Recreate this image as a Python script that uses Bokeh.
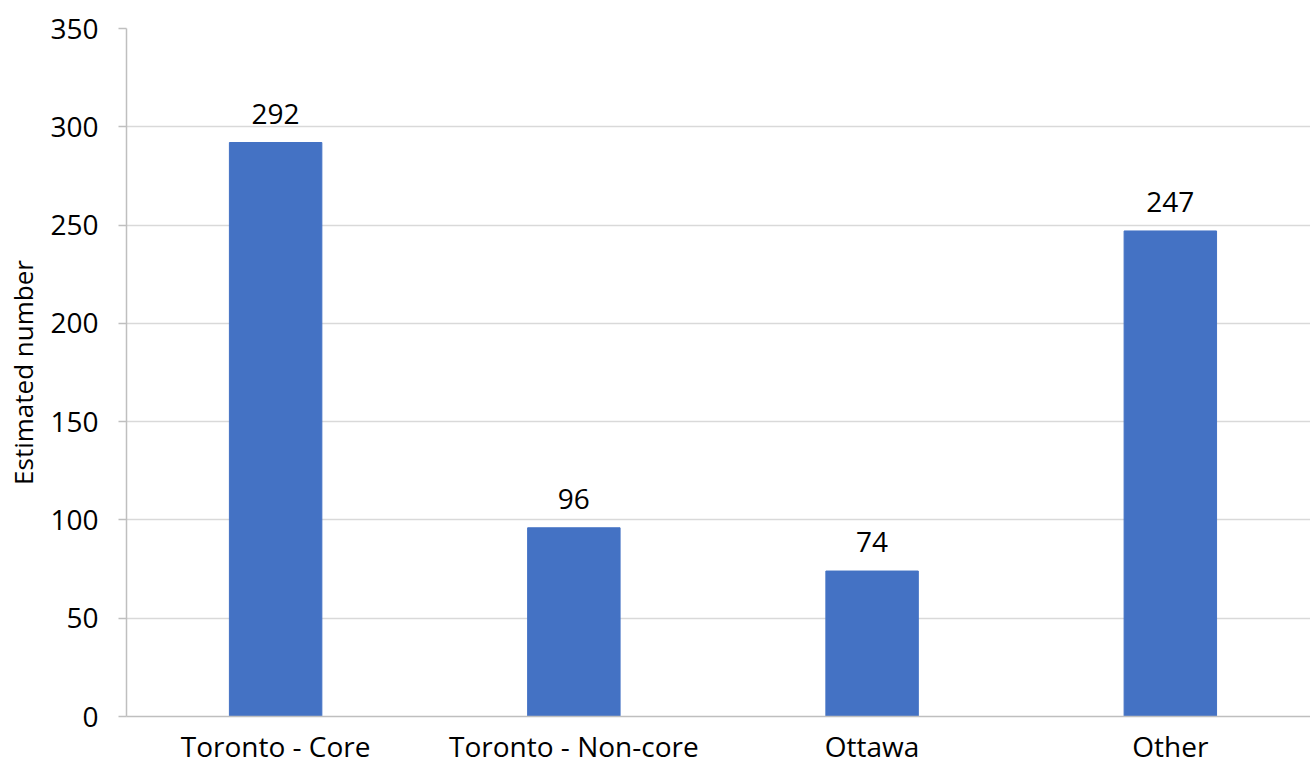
from bokeh.plotting import figure
from bokeh.models import ColumnDataSource, Range1d, FixedTicker, LabelSet
from bokeh.core.properties import value
from bokeh.embed import file_html
from bokeh.resources import INLINE

categories = ["Toronto - Core", "Toronto - Non-core", "Ottawa", "Other"]
values = [292, 96, 74, 247]
y_ticks = [0, 50, 100, 150, 200, 250, 300, 350]

xs = list(range(len(categories)))
src = ColumnDataSource(dict(x=xs, top=values, label=[str(v) for v in values]))

FONT = "Open Sans"
p = figure(width=1310, height=768, output_backend="svg", toolbar_location=None,
           x_range=Range1d(-0.5, 3.47), y_range=Range1d(0, 350),
           min_border_left=126, min_border_right=0, min_border_top=28, min_border_bottom=52)
p.outline_line_color = None
p.vbar(x="x", top="top", width=0.31, source=src, color="#4472C4")

labels = LabelSet(x="x", y="top", text="label", source=src, text_align="center",
                  text_baseline="alphabetic", y_offset=19, text_font=value(FONT),
                  text_font_size="28px", text_color="#000000")
p.add_layout(labels)

p.xaxis.ticker = FixedTicker(ticks=xs)
p.xaxis.major_label_overrides = {i: c for i, c in enumerate(categories)}
p.xaxis.major_tick_line_color = None
p.xaxis.minor_tick_line_color = None
p.xaxis.axis_line_color = "#bfbfbf"
p.xaxis.axis_line_width = 1.5
p.xaxis.major_label_text_font = FONT
p.xaxis.major_label_text_font_size = "28px"
p.xaxis.major_label_text_color = "#000000"
p.xaxis.major_label_standoff = 4

p.yaxis.ticker = FixedTicker(ticks=y_ticks)
p.yaxis.minor_tick_line_color = None
p.yaxis.axis_line_color = "#bfbfbf"
p.yaxis.axis_line_width = 1.5
p.yaxis.major_tick_line_color = "#bfbfbf"
p.yaxis.major_tick_line_width = 1.5
p.yaxis.major_tick_out = 8
p.yaxis.major_tick_in = 0
p.yaxis.major_label_text_font = FONT
p.yaxis.major_label_text_font_size = "28px"
p.yaxis.major_label_text_color = "#000000"
p.yaxis.major_label_standoff = 20
p.yaxis.axis_label = "Estimated number"
p.yaxis.axis_label_text_font = FONT
p.yaxis.axis_label_text_font_style = "normal"
p.yaxis.axis_label_text_font_size = "26px"
p.yaxis.axis_label_text_color = "#000000"
p.yaxis.axis_label_standoff = 6

p.xgrid.grid_line_color = None
p.ygrid.grid_line_color = "#d9d9d9"
p.ygrid.grid_line_width = 1.5

open("out.html", "w").write(file_html(p, INLINE))
